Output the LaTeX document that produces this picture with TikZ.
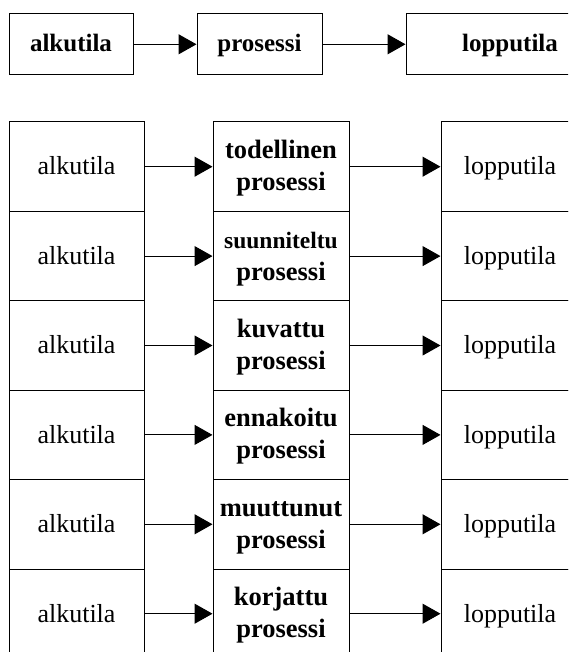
\documentclass[tikz,border=0pt]{standalone}
\usepackage{fontspec}
\setmainfont{Liberation Serif}
\usetikzlibrary{arrows.meta}
\newcommand{\twolines}[2]{\raisebox{17pt}[20pt][2pt]{\begin{tabular}[t]{@{}c@{}}#1\\#2\end{tabular}}}
\begin{document}
\begin{tikzpicture}[x=1pt,y=-1pt,
  bx/.style={draw, line width=1pt, inner sep=0pt},
  topbox/.style={bx, minimum height=61.3pt, text height=18pt, text depth=3.2pt, font=\bfseries\fontsize{25}{30}\selectfont},
  rowbox/.style={bx, minimum height=89.4pt, text height=20pt, text depth=3.4pt, font=\fontsize{26}{31}\selectfont},
  midbox/.style={bx, minimum height=89.4pt, minimum width=136pt, font=\bfseries\fontsize{26.5}{32}\selectfont},
  arr/.style={line width=1pt, -{Triangle[length=18pt,width=20pt]}}]
\useasboundingbox (0,0) rectangle (568,652);
\clip (0,0) rectangle (568,652);
% top row
\node[topbox, minimum width=124pt] (ta) at (71,44.3) {alkutila};
\node[topbox, minimum width=125pt] (tp) at (259.5,44.3) {prosessi};
\node[topbox, minimum width=208pt] (tl) at (510,44.3) {lopputila};
\draw[arr] (ta) -- (tp);
\draw[arr] (tp) -- (tl);
% lower rows
\foreach \i/\t in {0/todellinen, 1/{{\fontsize{23.5}{32}\selectfont suunniteltu}}, 2/kuvattu, 3/ennakoitu, 4/muuttunut, 5/korjattu}{
  \node[rowbox, minimum width=135pt] (L\i) at (76.5,166.7+89.4*\i) {alkutila};
  \node[midbox] (M\i) at (281,166.7+89.4*\i) {\twolines{\t}{prosessi}};
  \node[rowbox, minimum width=138pt] (R\i) at (510,166.7+89.4*\i) {lopputila};
  \draw[arr] (L\i) -- (M\i);
  \draw[arr] (M\i) -- (R\i);
}
\end{tikzpicture}
\end{document}
